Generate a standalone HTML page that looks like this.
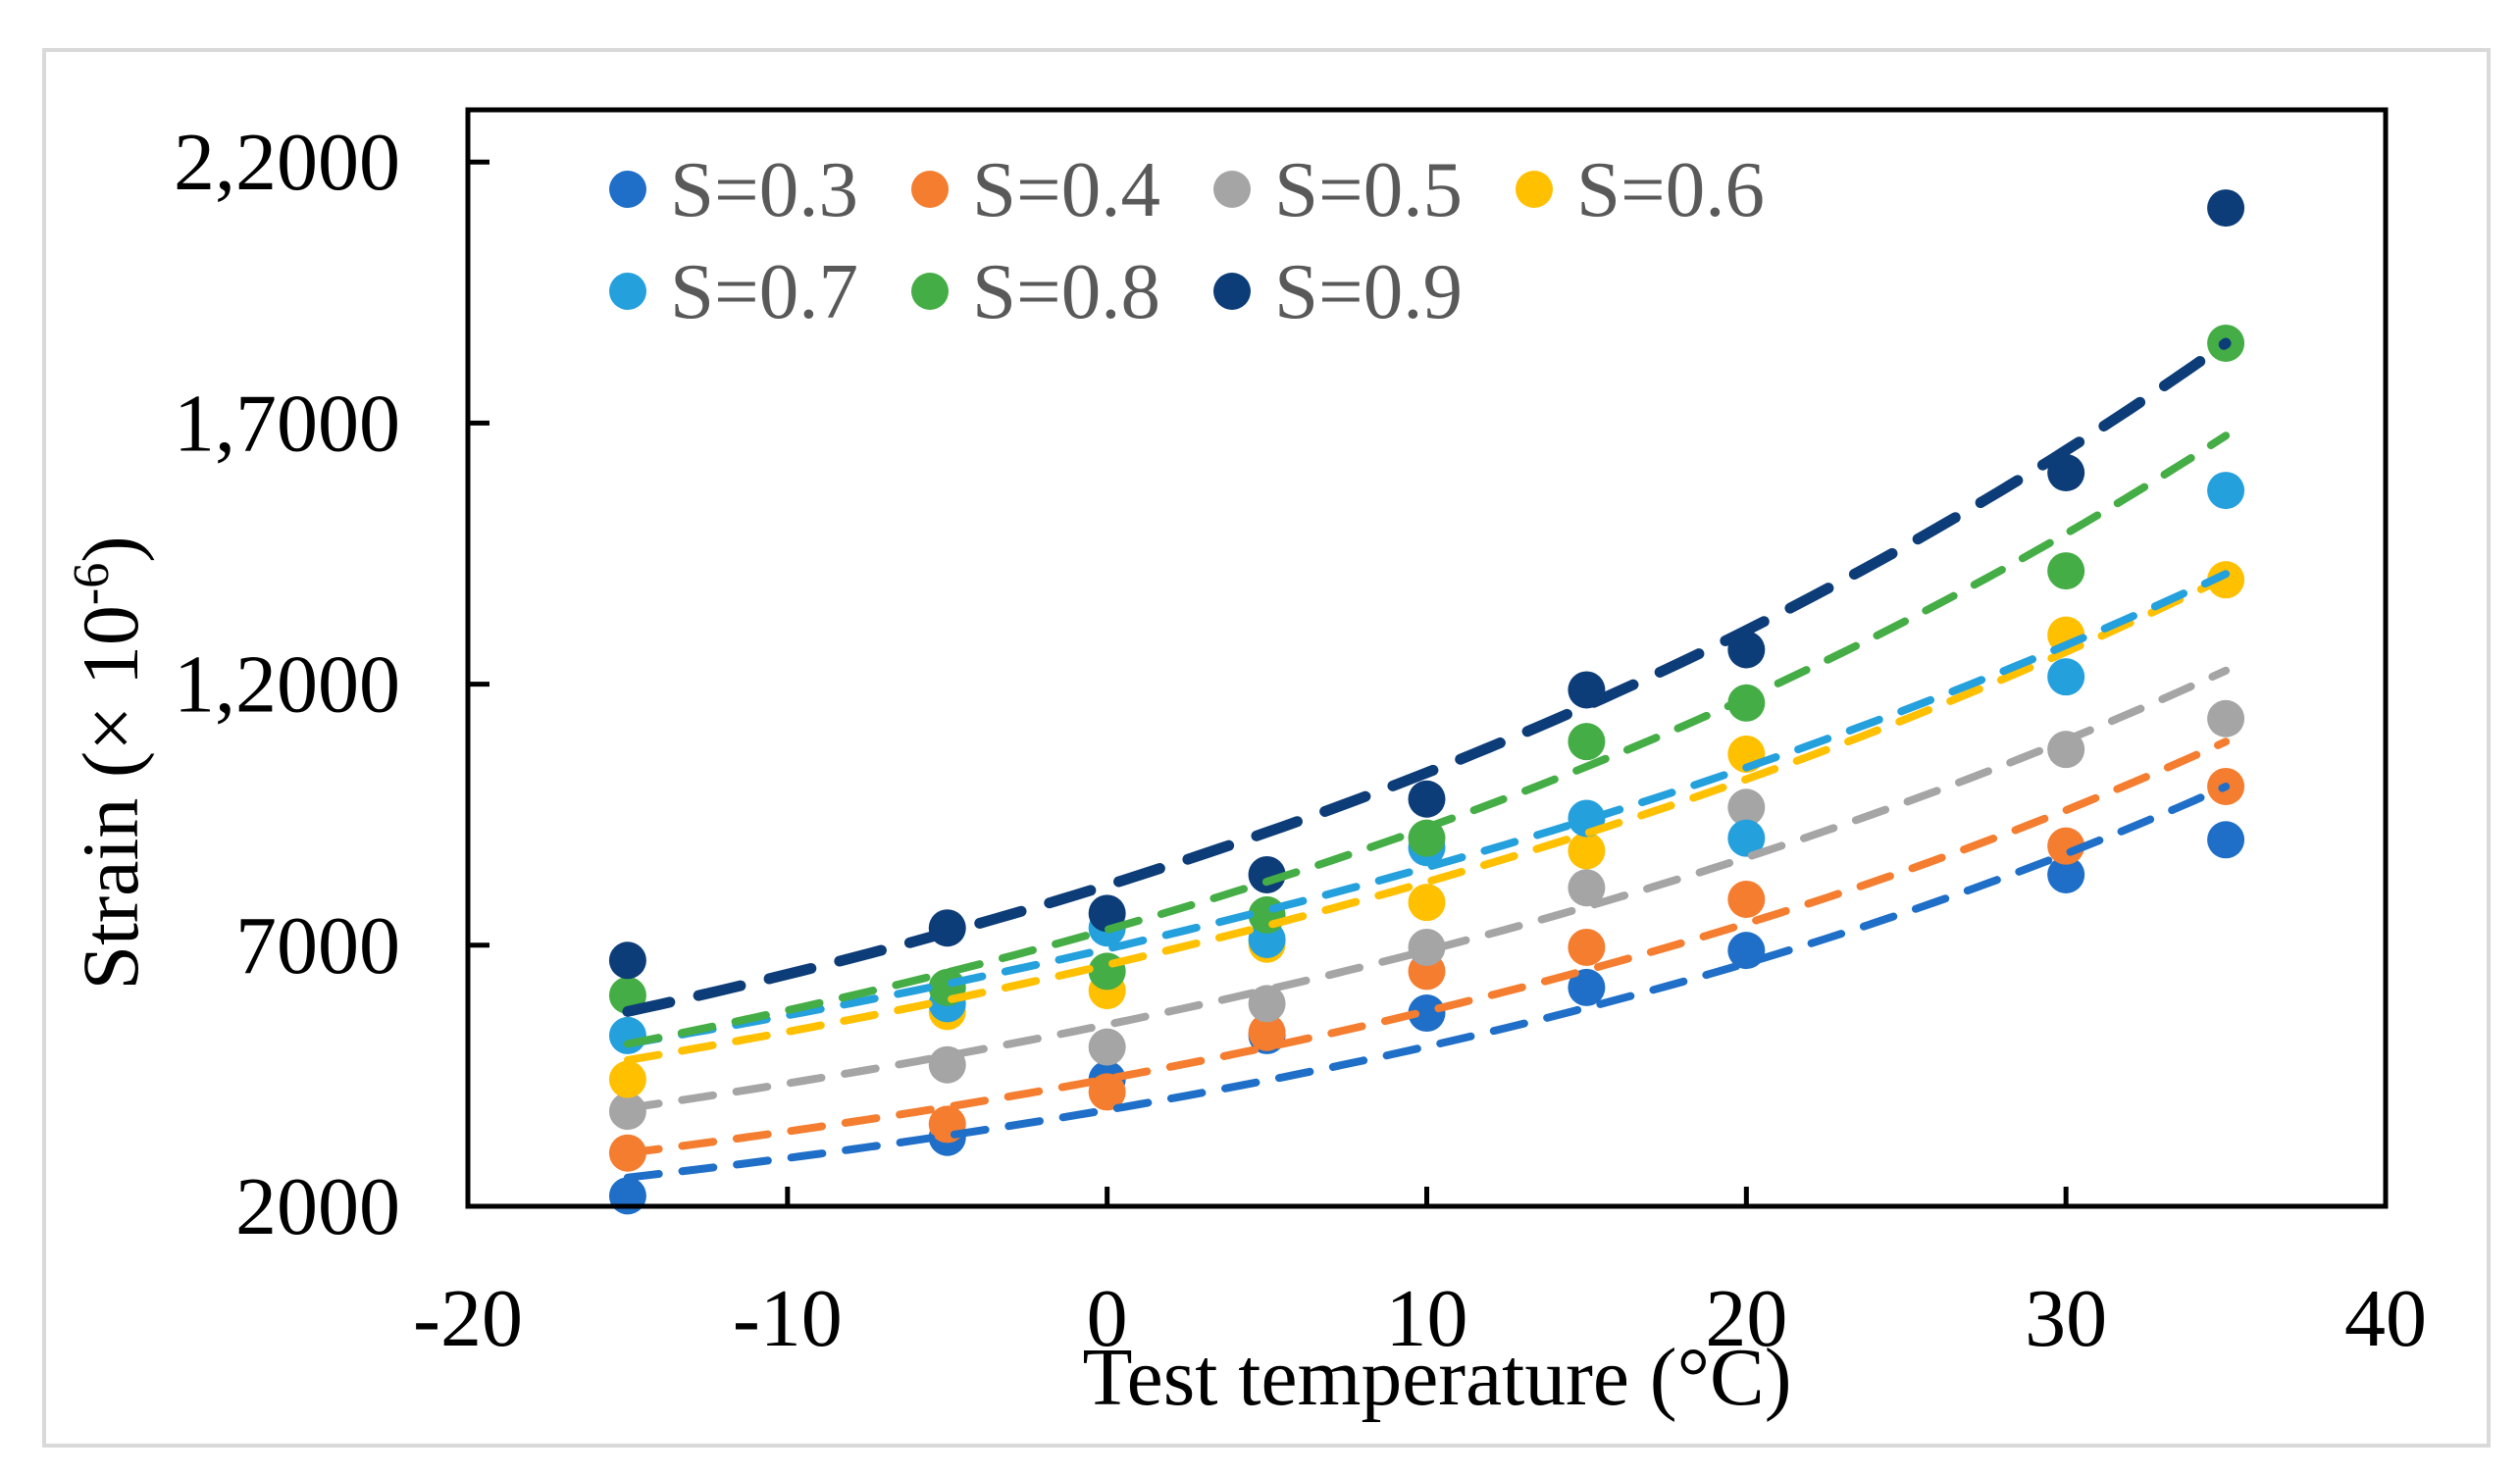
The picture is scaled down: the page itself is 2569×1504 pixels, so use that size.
<!DOCTYPE html>
<html><head><meta charset="utf-8"><style>
html,body{margin:0;padding:0;background:#fff}
svg{display:block}
text{font-family:"Liberation Serif","Times New Roman",serif}
</style></head><body>
<svg id="chart" width="2569" height="1504" viewBox="0 0 2569 1504" xmlns="http://www.w3.org/2000/svg">
<rect x="45" y="51" width="2492" height="1423" fill="#fff" stroke="#d9d9d9" stroke-width="4"/>
<g id="marks"></g>
<rect x="477" y="112" width="1955" height="1118" fill="none" stroke="#000" stroke-width="5"/>
<g id="axes"></g>
<g id="legend"></g>
<text x="1465" y="1432" font-size="84" text-anchor="middle" textLength="723" lengthAdjust="spacingAndGlyphs">Test temperature (°C)</text>
<text transform="translate(140,778) rotate(-90)" font-size="82" text-anchor="middle">Strain (× 10<tspan font-size="52" dy="-30">-6</tspan><tspan dy="30">)</tspan></text>
</svg>
<script>
const temps = [-15, -5, 0, 5, 10, 15, 20, 30, 35];
const seriesNames = ["S=0.3","S=0.4","S=0.5","S=0.6","S=0.7","S=0.8","S=0.9"];
const s03 = [2200, 3320, 4430, 5270, 5700, 6190, 6900, 8350, 9020];
const s04 = [3020, 3570, 4190, 5330, 6500, 6960, 7880, 8900, 10040];
const s05 = [3820, 4710, 5050, 5880, 6960, 8100, 9640, 10750, 11340];
const s06 = [4430, 5730, 6130, 7020, 7820, 8810, 10660, 12940, 14000];
const s07 = [5270, 5880, 7330, 7110, 8870, 9430, 9050, 12140, 15710];
const s08 = [6040, 6190, 6500, 7580, 9050, 10900, 11640, 14170, 18530];
const s09 = [6710, 7330, 7610, 8350, 9800, 11890, 12660, 16050, 21120];
const trendStart = [2550, 3020, 3880, 4800, 5110, 5110, 5730];
const trendEnd = [10040, 10900, 12260, 14050, 14110, 16760, 18530];
const xTicks = [-20, -10, 0, 10, 20, 30, 40];
const yTicks = [2000, 7000, 12000, 17000, 22000];
const yTickLabels = ["2000", "7000", "1,2000", "1,7000", "2,2000"];

const colors = ["#1f6fc8","#f47d30","#a5a5a5","#ffc000","#24a0dc","#45ad45","#0d3d78"];
const allSeries = [s03,s04,s05,s06,s07,s08,s09];
const X0=477, X1=2432, Y0=1230, Y1=112;
const xs = v => X0 + (v - (-20)) / 60 * (X1 - X0);
const ys = v => Y0 - (v - 2000) / 21000 * (Y0 - Y1);
const NS="http://www.w3.org/2000/svg";
function mk(tag, attrs, parent){const e=document.createElementNS(NS,tag);for(const k in attrs)e.setAttribute(k,attrs[k]);parent.appendChild(e);return e;}
const marks=document.getElementById('marks'), axes=document.getElementById('axes'), legend=document.getElementById('legend');

allSeries.forEach((s,i)=>{
  const g=mk('g',{},marks);
  
  
  s.forEach((v,j)=>{
    const c=mk('circle',{cx:xs(temps[j]),cy:ys(v),r:19,fill:colors[i]},g);
    
    
  });
});
allSeries.forEach((s,i)=>{
  const a=trendStart[i], b=trendEnd[i];
  const k=Math.log(b/a)/50;
  let d='';
  for(let t=-15;t<=35.001;t+=0.5){const v=a*Math.exp(k*(t+15));d+=(d?'L':'M')+xs(t).toFixed(1)+','+ys(v).toFixed(1);}
  const big=i===6;
  const p=mk('path',{d:d,fill:'none',stroke:colors[i],'stroke-width':big?11:8,'stroke-dasharray':big?'44 30':'32 24','stroke-linecap':'round'},marks);
  
  
});
xTicks.forEach(t=>{
  const x=xs(t);
  if(t>-20&&t<40){const l=mk('line',{x1:x,x2:x,y1:Y0,y2:Y0-20,stroke:'#000','stroke-width':5},axes);
  
  }
  const tx=mk('text',{x:x,y:1372,'font-size':84,'text-anchor':'middle'},axes);
  tx.textContent=String(t);
  
  
});
yTicks.forEach((t,i)=>{
  const y=ys(t);
  const l=mk('line',{x1:X0,x2:X0+22,y1:y,y2:y,stroke:'#000','stroke-width':5},axes);
  
  
  const tx=mk('text',{x:408,y:y+28,'font-size':84,'text-anchor':'end'},axes);
  tx.textContent=yTickLabels[i];
  
  
});
seriesNames.forEach((n,i)=>{
  const col=i%4,row=Math.floor(i/4);
  const cx=640+col*308, cy=193+row*104;
  const g=mk('g',{},legend);
  
  
  mk('circle',{cx:cx,cy:cy,r:19,fill:colors[i]},g);
  const tx=mk('text',{x:cx+43,y:cy+27,'font-size':80,fill:'#595959',textLength:192,lengthAdjust:'spacingAndGlyphs'},g);
  tx.textContent=n;
});
</script>
</body></html>
